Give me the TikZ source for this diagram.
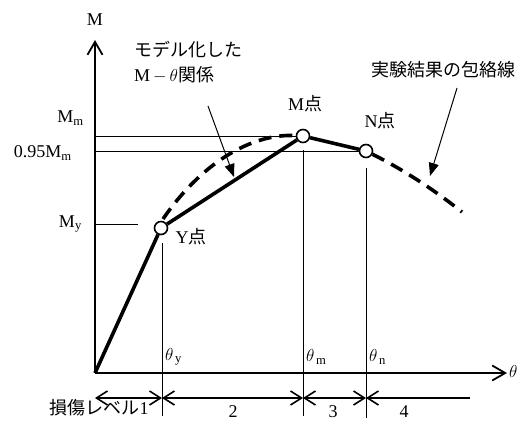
\documentclass[tikz,border=0pt]{standalone}
\usepackage{fontspec}
\setmainfont{Liberation Serif}
\newfontfamily\jp{Noto Sans CJK JP}
\usetikzlibrary{arrows.meta}
\tikzset{
  axis/.style={line width=1.8pt,-{Straight Barb[length=13pt,width=15pt,line width=1.8pt]}},
  guide/.style={line width=0.8pt},
  model/.style={line width=3.6pt,line join=round},
  envelope/.style={line width=3.6pt,dash pattern=on 13pt off 8pt},
  pt/.style={circle,draw,line width=1.6pt,fill=white,minimum size=13pt,inner sep=0pt},
  dim/.style={line width=1.6pt,{Straight Barb[length=11pt,width=14pt]}-{Straight Barb[length=11pt,width=14pt]}},
  dimleft/.style={line width=1.6pt,{Straight Barb[length=11pt,width=14pt]}-},
  pointer/.style={line width=1pt,-{Triangle[length=13pt,width=10pt]}},
  lbl/.style={font=\fontsize{18}{25}\selectfont,inner sep=1pt}
}
\begin{document}
\begin{tikzpicture}[x=1pt,y=-1pt]
\useasboundingbox (0,0) rectangle (530,421);
\coordinate (O) at (95,373);
% axes
\draw[axis] (O) -- (95,40) coordinate (Mtop);
\draw[axis] (O) -- (507,373) coordinate (Tend);
\node[lbl] (Mlab) at (95,20) {M};
\node[lbl,anchor=west] (Tlab) at (508,371) {$\theta$};
% key points
\node[pt] (Y) at (161,228) {};
\node[pt] (Mp) at (303,136) {};
\node[pt] (N) at (366,151) {};
\node[lbl] (Ylab) at (191,237) {Y\jp 点};
\node[lbl] (Mplab) at (305,104) {M\jp 点};
\node[lbl] (Nlab) at (380,121) {N\jp 点};
% levels on the M axis
\draw[guide] (95,136) coordinate (Mm) -- (Mp);
\draw[guide] (95,151) coordinate (M95) -- (N);
\draw[guide] (95,224) coordinate (My) -- (138,224);
\node[lbl,anchor=east] (Mmlab) at (85,118) {M\textsubscript{m}};
\node[lbl,anchor=east] (M95lab) at (73,153) {0.95M\textsubscript{m}};
\node[lbl,anchor=east] (Mylab) at (83,224) {M\textsubscript{y}};
% levels on the theta axis
\draw[guide] (162,243) -- (162,416) coordinate (ty);
\draw[guide] (303,150) -- (303,416) coordinate (tm);
\draw[guide] (366,168) -- (366,418) coordinate (tn);
\node[lbl,anchor=west] (tylab) at (164,357) {$\theta_{\,\mathrm{y}}$};
\node[lbl,anchor=west] (tmlab) at (305,357) {$\theta_{\,\mathrm{m}}$};
\node[lbl,anchor=west] (tnlab) at (368,357) {$\theta_{\,\mathrm{n}}$};
% model and envelope
\draw[envelope] (163,219) .. controls (200,165) and (250,133) .. (Mp);
\draw[envelope] (N) .. controls (400,168) and (432,188) .. (462,212);
\draw[model] (O) -- (Y) -- (Mp) -- (N);
% pointers
\node[lbl,align=left,anchor=north west] (modlab) at (133,40) {{\jp モデル化した}\\M\,$-$\,$\theta${\jp 関係}};
\coordinate (modtail) at (208,106);
\coordinate (modtip) at (234,177);
\draw[pointer] (modtail) -- (modtip);
\node[lbl] (envlab) at (443,70) {\jp 実験結果の包絡線};
\coordinate (envtail) at (457,88);
\coordinate (envtip) at (430,176);
\draw[pointer] (envtail) -- (envtip);
% damage levels
\coordinate (d0) at (95,398);
\coordinate (d1) at (162,398);
\coordinate (d2) at (303,398);
\coordinate (d3) at (366,398);
\coordinate (d4) at (470,398);
\draw[dim] (d0) -- (d1);
\draw[dim] (d1) -- (d2);
\draw[dim] (d2) -- (d3);
\draw[dimleft] (d3) -- (d4);
\node[lbl] (lv1) at (99,408) {{\jp 損傷レベル}1};
\node[lbl] (lv2) at (233,412) {2};
\node[lbl] (lv3) at (333,412) {3};
\node[lbl] (lv4) at (404,412) {4};
\end{tikzpicture}
\end{document}
